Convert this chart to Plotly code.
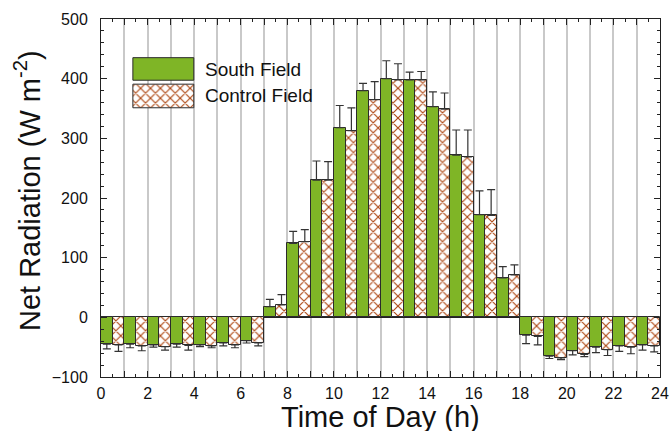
import plotly.graph_objects as go

# Hourly mean net radiation for the two fields, with standard deviations
hours = list(range(24))
south_field = [-45, -45, -46, -45, -46, -43, -39, 18, 124, 230, 318, 380,
               400, 398, 353, 272, 172, 66, -30, -65, -56, -50, -48, -46]
control_field = [-46, -48, -49, -47, -48, -46, -43, 21, 127, 230, 313, 365,
                 398, 398, 349, 269, 171, 71, -32, -68, -62, -54, -50, -48]
south_sd = [8, 6, 4, 5, 3, 5, 4, 12, 20, 32, 37, 12,
            30, 13, 25, 42, 40, 19, 14, 4, 7, 9, 9, 9]
control_sd = [11, 8, 6, 8, 3, 5, 5, 17, 20, 31, 38, 30,
              27, 14, 27, 45, 43, 17, 14, 3, 4, 10, 11, 10]

x_ticks = list(range(0, 25))
x_ticktext = [str(v) if v % 2 == 0 else " " for v in x_ticks]

GREEN = "#7fb526"
HATCH = "#ad4712"
EDGE = "#2b2b2b"
FONT = "Liberation Sans, Arial, sans-serif"
HATCH_PATTERN = dict(shape="x", fgcolor=HATCH, bgcolor="white",
                     fgopacity=1, size=7, solidity=0.3)


def one_sided(values, sd):
    """Error bar drawn away from zero only."""
    plus = [s if v >= 0 else 0 for v, s in zip(values, sd)]
    minus = [s if v < 0 else 0 for v, s in zip(values, sd)]
    return plus, minus


centers = [h + 0.5 for h in hours]
sp, sm = one_sided(south_field, south_sd)
cp, cm = one_sided(control_field, control_sd)

fig = go.Figure()
fig.add_trace(go.Bar(
    x=centers, y=south_field, name="South Field",
    marker=dict(color=GREEN, line=dict(color=EDGE, width=1)),
    error_y=dict(type="data", symmetric=False, array=sp, arrayminus=sm,
                 color="#333333", thickness=1.2, width=4),
    showlegend=False,
))
fig.add_trace(go.Bar(
    x=centers, y=control_field, name="Control Field",
    marker=dict(color="white", line=dict(color=EDGE, width=1),
                pattern=HATCH_PATTERN),
    error_y=dict(type="data", symmetric=False, array=cp, arrayminus=cm,
                 color="#333333", thickness=1.2, width=4),
    showlegend=False,
))

# Custom legend patches drawn on an invisible overlay axis in [0, 1]
legend_x = [0.057, 0.166]
fig.add_trace(go.Scatter(
    x=[legend_x[0], legend_x[1], legend_x[1], legend_x[0], legend_x[0]],
    y=[0.829, 0.829, 0.892, 0.892, 0.829],
    fill="toself", fillcolor=GREEN, mode="lines",
    line=dict(color=EDGE, width=1), xaxis="x2", yaxis="y2",
    showlegend=False, hoverinfo="skip",
))
fig.add_trace(go.Scatter(
    x=[legend_x[0], legend_x[1], legend_x[1], legend_x[0], legend_x[0]],
    y=[0.752, 0.752, 0.818, 0.818, 0.752],
    fill="toself", fillcolor="white", mode="lines",
    fillpattern=HATCH_PATTERN,
    line=dict(color=EDGE, width=1), xaxis="x2", yaxis="y2",
    showlegend=False, hoverinfo="skip",
))

for label, ypos in (("South Field", 0.860), ("Control Field", 0.785)):
    fig.add_annotation(x=0.1825, y=ypos, xref="paper", yref="paper",
                       text=label, showarrow=False, xanchor="left",
                       yanchor="middle",
                       font=dict(family=FONT, size=19, color="#111111"))

# Axis titles placed as paper annotations
fig.add_annotation(x=0.5, y=-0.113, xref="paper", yref="paper",
                   text="Time of Day (h)", showarrow=False,
                   xanchor="center", yanchor="middle", borderpad=0,
                   font=dict(family=FONT, size=29, color="#111111"))
fig.add_annotation(x=-0.132, y=0.52, xref="paper", yref="paper",
                   text="Net Radiation (W m<sup>-2</sup>)", showarrow=False,
                   textangle=-90, xanchor="center", yanchor="middle",
                   font=dict(family=FONT, size=29, color="#111111"))

fig.update_layout(
    width=670, height=431,
    margin=dict(l=101, r=10, t=19, b=54, autoexpand=False),
    paper_bgcolor="white", plot_bgcolor="white",
    barmode="group", bargap=0, bargroupgap=0,
    font=dict(family=FONT, color="#111111"),
    xaxis=dict(
        range=[0, 24], tickmode="array", tickvals=x_ticks, ticktext=x_ticktext,
        ticks="inside", ticklen=6, tickwidth=1, tickcolor="#222222",
        showline=True, linecolor="#222222", linewidth=1, mirror="ticks",
        showgrid=True, gridcolor="#c9c9c9", gridwidth=1.5,
        zeroline=False, automargin=False,
        minor=dict(tickmode="linear", tick0=0, dtick=0.5, ticks="inside",
                   ticklen=3, tickcolor="#222222", showgrid=False),
        tickfont=dict(size=16, family=FONT, color="#111111"),
        ticklabelstandoff=2,
    ),
    yaxis=dict(
        range=[-100, 500], tickmode="linear", tick0=0, dtick=100,
        ticks="inside", ticklen=6, tickwidth=1, tickcolor="#222222",
        showline=True, linecolor="#222222", linewidth=1, mirror="ticks",
        showgrid=False, automargin=False,
        zeroline=True, zerolinecolor="#222222", zerolinewidth=1,
        minor=dict(tickmode="linear", tick0=0, dtick=20, ticks="inside",
                   ticklen=3, tickcolor="#222222", showgrid=False),
        tickfont=dict(size=16, family=FONT, color="#111111"),
        ticklabelstandoff=9,
    ),
    xaxis2=dict(overlaying="x", range=[0, 1], visible=False,
                fixedrange=True),
    yaxis2=dict(overlaying="y", range=[0, 1], visible=False,
                fixedrange=True),
)

fig.write_html("out.html")
